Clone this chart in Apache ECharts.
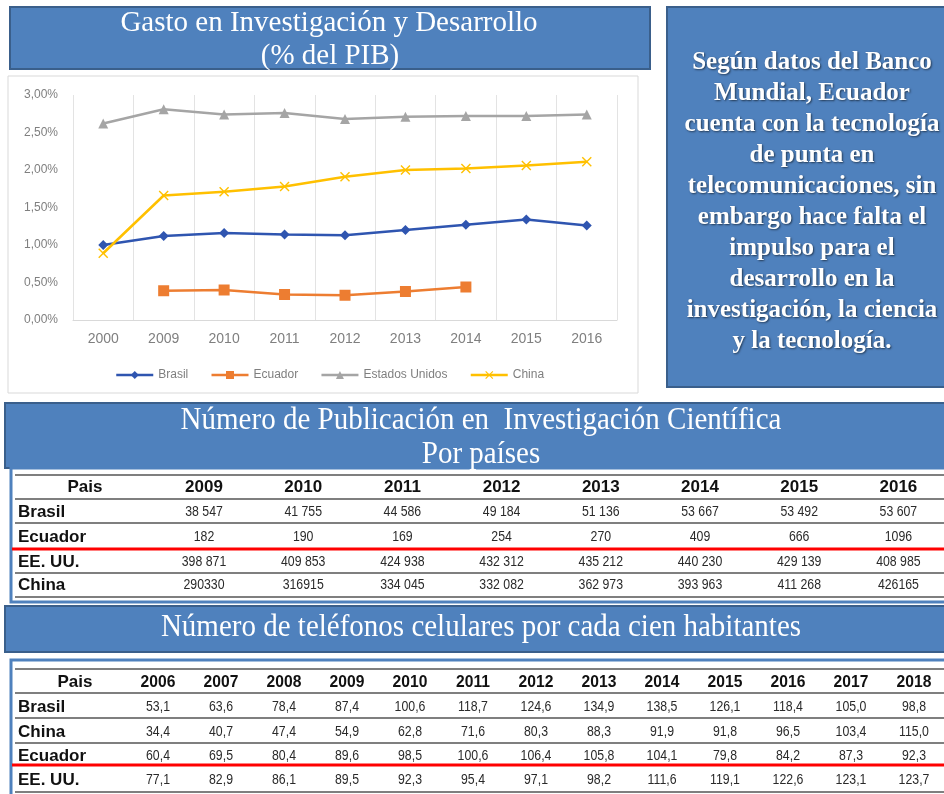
<!DOCTYPE html>
<html><head><meta charset="utf-8">
<script src="https://cdn.jsdelivr.net/npm/echarts@6/dist/echarts.min.js"></script>
<style>html,body{margin:0;padding:0;background:#fff}#c{width:944px;height:794px}</style>
</head><body><div id="c"></div>
<script>
// ---- Chart 1 data: Gasto en I+D (% del PIB)
const gastoYears = ['2000','2009','2010','2011','2012','2013','2014','2015','2016'];
const gastoBrasil = [1.00,1.12,1.16,1.14,1.13,1.20,1.27,1.34,1.26];
const gastoEcuador = [null,0.39,0.40,0.34,0.33,0.38,0.44,null,null];
const gastoEEUU = [2.62,2.81,2.74,2.76,2.68,2.71,2.72,2.72,2.74];
const gastoChina = [0.89,1.66,1.71,1.78,1.91,2.00,2.02,2.06,2.11];
const yTicks = [0,0.5,1,1.5,2,2.5,3];

// ---- Table 1: publicaciones
const pubYears = ['2009','2010','2011','2012','2013','2014','2015','2016'];
const pubCountries = ['Brasil','Ecuador','EE. UU.','China'];
const pubBrasil = ['38 547','41 755','44 586','49 184','51 136','53 667','53 492','53 607'];
const pubEcuador = ['182','190','169','254','270','409','666','1096'];
const pubEEUU = ['398 871','409 853','424 938','432 312','435 212','440 230','429 139','408 985'];
const pubChina = ['290330','316915','334 045','332 082','362 973','393 963','411 268','426165'];

// ---- Table 2: celulares por cada cien habitantes
const celYears = ['2006','2007','2008','2009','2010','2011','2012','2013','2014','2015','2016','2017','2018'];
const celCountries = ['Brasil','China','Ecuador','EE. UU.'];
const celBrasil = [53.1,63.6,78.4,87.4,100.6,118.7,124.6,134.9,138.5,126.1,118.4,105.0,98.8];
const celChina = [34.4,40.7,47.4,54.9,62.8,71.6,80.3,88.3,91.9,91.8,96.5,103.4,115.0];
const celEcuador = [60.4,69.5,80.4,89.6,98.5,100.6,106.4,105.8,104.1,79.8,84.2,87.3,92.3];
const celEEUU = [77.1,82.9,86.1,89.5,92.3,95.4,97.1,98.2,111.6,119.1,122.6,123.1,123.7];

// ---- Texts
const title1 = ['Gasto en Investigación y Desarrollo','(% del PIB)'];
const noteLines = ['Según datos del Banco','Mundial, Ecuador','cuenta con la tecnología','de punta en','telecomunicaciones, sin','embargo hace falta el','impulso para el','desarrollo en la','investigación, la ciencia','y la tecnología.'];
const title2 = ['Número de Publicación en  Investigación Científica','Por países'];
const title3 = ['Número de teléfonos celulares por cada cien habitantes'];

const BLUE = '#4F81BD', BLUE_D = '#3A5F8B';
const SERIF = '"Liberation Serif","Times New Roman",serif';
const SANS = '"Liberation Sans",Arial,sans-serif';

const g = [];
function rect(x,y,w,h,fill,stroke,lw,z){g.push({type:'rect',z:z||1,shape:{x,y,width:w,height:h},style:{fill,stroke,lineWidth:lw||0}});}
function line(x1,y1,x2,y2,stroke,lw,z){g.push({type:'line',z:z||3,shape:{x1,y1,x2,y2},style:{stroke,lineWidth:lw}});}
function text(t,x,y,font,color,align,extra){g.push(Object.assign({type:'text',z:5,x,y,style:Object.assign({text:t,font,fill:color,align:align||'center',verticalAlign:'middle'},extra&&extra.style||{})},extra&&extra.el||{}));}

// Title 1 box
rect(10,7,640,62,BLUE,BLUE_D,2);
text(title1[0],329,23,'29px '+SERIF,'#fff','center',{el:{scaleY:1.05}});
text(title1[1],330,56,'29px '+SERIF,'#fff','center',{el:{scaleY:1.05}});
// chart frame (no fill so axes stay visible)
rect(8,76,630,317,'none','#D9D9D9',1,0);
// right note box
rect(667,7,300,380,BLUE,BLUE_D,2);
noteLines.forEach((t,i)=>text(t,812,63+i*31,'bold 25px '+SERIF,'#fff','center',{style:{textShadowColor:'rgba(0,0,0,0.55)',textShadowBlur:2,textShadowOffsetX:1,textShadowOffsetY:1}}));

// Section 2 title
rect(5,403,950,65,BLUE,BLUE_D,2);
text(title2[0],481,421,'29px '+SERIF,'#fff','center',{el:{scaleY:1.08}});
text(title2[1],481,455,'29px '+SERIF,'#fff','center',{el:{scaleY:1.08}});
// Table 1
rect(11,468,945,134,'#fff',BLUE,3,1);
(function(){
  const colX = pubYears.map((_,i)=>204+i*99.2);
  const rowY = [487,512,537,562,585];
  const lineY = [475,499,523,573,597];
  lineY.forEach(y=>line(15,y,944,y,'#7F7F7F',2));
  text('Pais',85,rowY[0],'bold 17px '+SANS,'#111');
  pubYears.forEach((t,i)=>text(t,colX[i],rowY[0],'bold 17px '+SANS,'#111'));
  const rows=[pubBrasil,pubEcuador,pubEEUU,pubChina];
  pubCountries.forEach((c,r)=>{
    text(c,18,rowY[r+1],'bold 17px '+SANS,'#111','left');
    rows[r].forEach((v,i)=>text(v,colX[i],rowY[r+1],'15px '+SANS,'#2a2a2a','center',{el:{scaleX:0.82}}));
  });
  line(12,549,944,549,'#FF0000',3,4);
})();

// Section 3 title
rect(5,606,950,46,BLUE,BLUE_D,2);
text(title3[0],481,628,'29px '+SERIF,'#fff','center',{el:{scaleY:1.08}});
// Table 2
rect(11,660,945,140,'#fff',BLUE,3,1);
(function(){
  const colX = celYears.map((_,i)=>158+i*63);
  const rowY = [682,707,732,756,780];
  const lineY = [669,693,718,743,792];
  lineY.forEach(y=>line(15,y,944,y,'#7F7F7F',2));
  text('Pais',75,rowY[0],'bold 17px '+SANS,'#111');
  celYears.forEach((t,i)=>text(t,colX[i],rowY[0],'bold 17px '+SANS,'#111','center',{el:{scaleX:0.92}}));
  const rows=[celBrasil,celChina,celEcuador,celEEUU];
  celCountries.forEach((c,r)=>{
    text(c,18,rowY[r+1],'bold 17px '+SANS,'#111','left');
    rows[r].forEach((v,i)=>text(v.toFixed(1).replace('.',','),colX[i],rowY[r+1],'15px '+SANS,'#2a2a2a','center',{el:{scaleX:0.82}}));
  });
  line(12,765,944,765,'#FF0000',3,4);
})();

const xPath = 'path://M0,1L1,0L5,4L9,0L10,1L6,5L10,9L9,10L5,6L1,10L0,9L4,5Z';
const chart = echarts.init(document.getElementById('c'),null,{renderer:'canvas'});
function ser(name,data,color,symbol,size){
  return {name,type:'line',data,symbol,symbolSize:size,showSymbol:true,z:3,
    lineStyle:{color,width:2.5},itemStyle:{color},emphasis:{disabled:true}};
}
chart.setOption({
  animation:false,
  grid:{left:73,right:327,top:95,bottom:474,containLabel:false},
  xAxis:{type:'category',data:gastoYears,boundaryGap:true,
    axisLine:{lineStyle:{color:'#D9D9D9',width:1}},axisTick:{show:false},
    axisLabel:{color:'#7F7F7F',fontSize:14,margin:12,fontFamily:SANS},
    splitLine:{show:true,lineStyle:{color:'#E3E3E3',width:1}}},
  yAxis:{type:'value',min:yTicks[0],max:yTicks[yTicks.length-1],interval:0.5,
    axisLine:{show:false},axisTick:{show:false},splitLine:{show:false},
    axisLabel:{color:'#7F7F7F',fontSize:12,margin:15,fontFamily:SANS,
      formatter:v=>v.toFixed(2).replace('.',',')+'%'}},
  legend:{left:110,top:364,itemWidth:37,itemHeight:10,itemGap:22,
    lineStyle:{width:2.5},
    textStyle:{color:'#7F7F7F',fontSize:12,fontFamily:SANS},
    data:['Brasil','Ecuador','Estados Unidos','China']},
  series:[
    ser('Brasil',gastoBrasil,'#2F55B0','diamond',10),
    ser('Ecuador',gastoEcuador,'#ED7D31','rect',11),
    ser('Estados Unidos',gastoEEUU,'#A5A5A5','triangle',10),
    ser('China',gastoChina,'#FFC000',xPath,10)
  ],
  graphic:g
});
</script></body></html>
